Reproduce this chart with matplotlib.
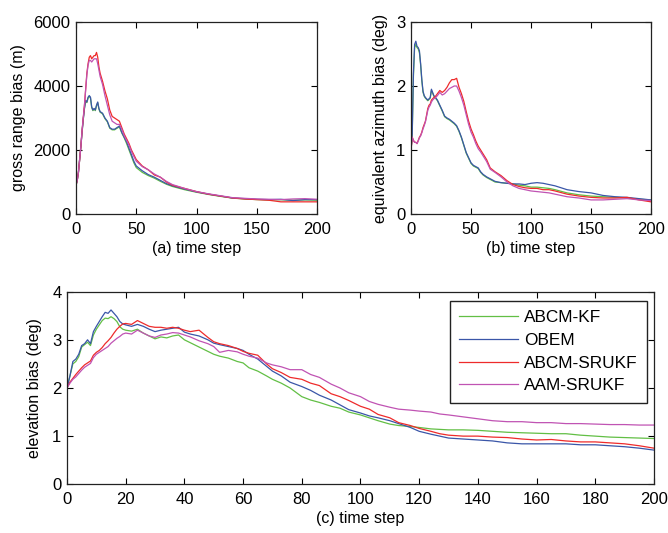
import matplotlib
matplotlib.use('Agg')
import matplotlib.pyplot as plt

plt.rcParams['font.family'] = ['Liberation Sans', 'DejaVu Sans']
plt.rcParams['font.size'] = 12

# legend labels and colours
labels = ['ABCM-KF', 'OBEM', 'ABCM-SRUKF', 'AAM-SRUKF']
colors = ['#62bf45', '#3a56a8', '#ee2b2b', '#c053b3']

# (a) gross range bias
xa = [0, 1, 2, 3, 4, 5, 6, 7, 8, 9, 10, 11, 12, 13, 14, 15, 16, 17, 18, 19, 20,
      22, 24, 26, 28, 30, 32, 34, 36, 38, 40, 42, 44, 46, 48, 50, 55, 60, 65, 70,
      75, 80, 90, 100, 110, 120, 130, 140, 150, 160, 170, 180, 190, 200]
a_kf = [900, 1050, 1300, 1700, 2100, 2550, 2950, 3300, 3520, 3480, 3620, 3680, 3620, 3330, 3230, 3280,
        3230, 3380, 3480, 3280, 3180, 3130, 2980, 2880, 2680, 2630, 2630, 2680, 2720, 2530, 2380, 2200,
        2000, 1800, 1600, 1450, 1300, 1200, 1120, 1020, 930, 860, 760, 680, 610, 550, 495, 470, 450,
        440, 445, 430, 440, 430]
a_obem = [900, 1050, 1300, 1700, 2100, 2550, 2950, 3300, 3550, 3500, 3650, 3700, 3650, 3350, 3250, 3300,
          3250, 3400, 3500, 3300, 3200, 3150, 3000, 2900, 2700, 2650, 2650, 2700, 2750, 2550, 2400, 2250,
          2050, 1850, 1650, 1500, 1350, 1230, 1150, 1050, 950, 880, 780, 690, 620, 560, 500, 480, 460,
          450, 460, 420, 450, 450]
a_srukf = [900, 1050, 1300, 1700, 2100, 2600, 3000, 3400, 3900, 4400, 4700, 4900, 4950, 4850, 4900, 4950,
           4950, 5050, 4900, 4600, 4400, 4150, 3850, 3600, 3250, 3050, 3000, 2950, 2900, 2700, 2500, 2350,
           2200, 2000, 1850, 1700, 1500, 1380, 1220, 1150, 1000, 900, 800, 700, 620, 560, 500, 470, 450,
           430, 380, 380, 380, 380]
a_aam = [900, 1050, 1300, 1700, 2100, 2600, 3000, 3400, 3880, 4350, 4650, 4800, 4800, 4750, 4800, 4850,
         4850, 4850, 4700, 4500, 4300, 4050, 3700, 3400, 3100, 2900, 2850, 2800, 2800, 2650, 2450, 2300,
         2150, 1950, 1800, 1650, 1480, 1380, 1250, 1150, 1020, 920, 800, 700, 630, 570, 510, 490, 470,
         460, 450, 470, 480, 460]

# (b) equivalent azimuth bias
xb = [0, 1, 2, 3, 4, 5, 6, 7, 8, 9, 10, 11, 12, 13, 14, 15, 16, 17, 18, 19, 20,
      22, 24, 26, 28, 30, 32, 34, 36, 38, 40, 42, 44, 46, 48, 50, 52, 54, 56, 58, 60,
      63, 66, 70, 75, 80, 85, 90, 95, 100, 105, 110, 115, 120, 130, 140, 150, 160, 170,
      180, 190, 200]
b_kf = [1.0, 1.25, 2.15, 2.6, 2.65, 2.6, 2.58, 2.52, 2.33, 2.08, 1.9, 1.84, 1.81, 1.79, 1.77, 1.79,
        1.81, 1.93, 1.89, 1.84, 1.82, 1.77, 1.69, 1.61, 1.52, 1.49, 1.47, 1.44, 1.41, 1.37, 1.29, 1.19,
        1.07, 0.95, 0.87, 0.79, 0.75, 0.73, 0.71, 0.65, 0.61, 0.57, 0.54, 0.5, 0.49, 0.48, 0.47, 0.45,
        0.44, 0.42, 0.42, 0.41, 0.4, 0.38, 0.33, 0.3, 0.28, 0.27, 0.26, 0.25, 0.23, 0.22]
b_obem = [1.0, 1.25, 2.2, 2.65, 2.7, 2.62, 2.6, 2.55, 2.35, 2.1, 1.92, 1.85, 1.82, 1.8, 1.78, 1.8,
          1.82, 1.95, 1.9, 1.85, 1.83, 1.78, 1.7, 1.62, 1.53, 1.5, 1.48, 1.45, 1.42, 1.38, 1.3, 1.2,
          1.08, 0.96, 0.88, 0.8, 0.76, 0.74, 0.72, 0.66, 0.62, 0.58, 0.55, 0.51, 0.49, 0.48, 0.47, 0.47,
          0.46, 0.48, 0.49, 0.48, 0.46, 0.44, 0.38, 0.35, 0.33, 0.29, 0.27, 0.26, 0.24, 0.22]
b_srukf = [1.0, 1.2, 1.15, 1.12, 1.12, 1.1, 1.15, 1.2, 1.23, 1.28, 1.35, 1.4, 1.45, 1.55, 1.65, 1.7,
           1.72, 1.78, 1.8, 1.82, 1.83, 1.88, 1.93, 1.9, 1.93, 1.98, 2.05, 2.1, 2.1, 2.12, 1.98, 1.88,
           1.76, 1.6, 1.45, 1.33, 1.24, 1.14, 1.06, 1.0, 0.94, 0.85, 0.72, 0.66, 0.6, 0.52, 0.46, 0.43,
           0.41, 0.4, 0.4, 0.38, 0.38, 0.36, 0.31, 0.28, 0.26, 0.25, 0.25, 0.26, 0.22, 0.19]
b_aam = [1.0, 1.2, 1.15, 1.12, 1.12, 1.1, 1.14, 1.19, 1.22, 1.27, 1.33, 1.38, 1.44, 1.53, 1.62, 1.67,
         1.7, 1.75, 1.78, 1.8, 1.81, 1.85, 1.9, 1.86, 1.88, 1.92, 1.96, 1.98, 2.0, 2.0, 1.92, 1.82,
         1.7, 1.55, 1.4, 1.28, 1.2, 1.1, 1.02, 0.97, 0.91, 0.82, 0.7, 0.65, 0.58, 0.5, 0.44, 0.4,
         0.38, 0.36, 0.35, 0.34, 0.33, 0.31, 0.27, 0.25, 0.22, 0.22, 0.23, 0.24, 0.22, 0.21]

# (c) elevation bias
xc = [0, 1, 2, 3, 4, 5, 6, 7, 8, 9, 10, 11, 12, 13, 14, 15, 16, 17, 18, 19, 20,
      22, 24, 26, 28, 30, 32, 34, 36, 38, 40, 42, 45, 48, 50, 52, 55, 58, 60, 62, 65,
      68, 70, 73, 76, 80, 83, 86, 90, 93, 96, 100, 103, 106, 110, 113, 117, 120, 124,
      127, 130, 135, 140, 145, 150, 155, 160, 165, 170, 175, 180, 185, 190, 195, 200]
c_kf = [2.0, 2.25, 2.5, 2.55, 2.65, 2.85, 2.9, 2.95, 2.88, 3.1, 3.22, 3.31, 3.4, 3.45, 3.44, 3.48,
        3.44, 3.38, 3.27, 3.22, 3.2, 3.18, 3.22, 3.14, 3.08, 3.02, 3.06, 3.04, 3.08, 3.1, 3.0, 2.94,
        2.85, 2.76, 2.7, 2.66, 2.62, 2.55, 2.52, 2.42, 2.35, 2.25, 2.18, 2.1, 2.0, 1.82, 1.75, 1.7,
        1.62, 1.58, 1.5, 1.44, 1.38, 1.32, 1.25, 1.22, 1.2, 1.18, 1.15, 1.14, 1.13, 1.13, 1.12, 1.1,
        1.08, 1.07, 1.06, 1.05, 1.05, 1.02, 1.0, 0.98, 0.97, 0.96, 0.95]
c_obem = [2.0, 2.25, 2.55, 2.6, 2.7, 2.88, 2.92, 3.0, 2.92, 3.17, 3.28, 3.38, 3.48, 3.57, 3.55, 3.62,
          3.55, 3.48, 3.38, 3.33, 3.31, 3.28, 3.32, 3.28, 3.22, 3.17, 3.2, 3.22, 3.24, 3.26, 3.16, 3.12,
          3.08, 3.0, 2.93, 2.9, 2.86, 2.82, 2.78, 2.7, 2.6, 2.45, 2.35, 2.25, 2.12, 2.03, 1.95, 1.85,
          1.75, 1.65, 1.55, 1.48, 1.42, 1.38, 1.32, 1.26, 1.18, 1.1, 1.04, 1.0, 0.96, 0.94, 0.92, 0.9,
          0.86, 0.84, 0.84, 0.84, 0.84, 0.82, 0.82, 0.8, 0.78, 0.75, 0.71]
c_srukf = [2.0, 2.12, 2.2, 2.28, 2.35, 2.42, 2.48, 2.52, 2.56, 2.68, 2.74, 2.78, 2.84, 2.92, 2.98, 3.05,
           3.14, 3.22, 3.28, 3.33, 3.34, 3.32, 3.4, 3.34, 3.28, 3.26, 3.26, 3.24, 3.26, 3.24, 3.2, 3.17,
           3.2, 3.05, 2.96, 2.92, 2.88, 2.82, 2.76, 2.72, 2.68, 2.5, 2.4, 2.32, 2.22, 2.18, 2.1, 2.05,
           1.88, 1.82, 1.74, 1.62, 1.56, 1.45, 1.38, 1.28, 1.22, 1.16, 1.1, 1.05, 1.02, 1.0, 1.0, 0.98,
           0.97, 0.94, 0.92, 0.93, 0.9, 0.88, 0.88, 0.86, 0.84, 0.8, 0.75]
c_aam = [2.0, 2.1, 2.18, 2.23, 2.3, 2.37, 2.43, 2.47, 2.51, 2.63, 2.7, 2.74, 2.78, 2.82, 2.86, 2.93,
         2.98, 3.03, 3.07, 3.12, 3.14, 3.12, 3.2, 3.14, 3.08, 3.05, 3.1, 3.12, 3.15, 3.14, 3.1, 3.06,
         2.98, 2.92, 2.86, 2.74, 2.78, 2.75, 2.7, 2.66, 2.62, 2.52, 2.48, 2.44, 2.38, 2.38, 2.28, 2.22,
         2.08, 2.0, 1.9, 1.82, 1.72, 1.66, 1.6, 1.56, 1.54, 1.52, 1.5, 1.46, 1.44, 1.4, 1.36, 1.32,
         1.3, 1.3, 1.28, 1.28, 1.26, 1.26, 1.25, 1.24, 1.24, 1.23, 1.23]


def style(ax):
    ax.tick_params(direction='in', top=True, right=True, length=4, width=0.8,
                   labelsize=12)
    ax.tick_params(axis='x', pad=5.5)
    ax.tick_params(axis='y', pad=4)
    for sp in ax.spines.values():
        sp.set_linewidth(0.9)
        sp.set_color('#222222')


fig = plt.figure(figsize=(6.68, 5.33), dpi=100)

ax1 = fig.add_axes([0.1138, 0.5985, 0.3608, 0.3602])
for ys, c in zip([a_kf, a_obem, a_srukf, a_aam], colors):
    ax1.plot(xa, ys, color=c, lw=0.9)
ax1.set_xlim(0, 200)
ax1.set_ylim(0, 6000)
ax1.set_xticks([0, 50, 100, 150, 200])
ax1.set_yticks([0, 2000, 4000, 6000])
ax1.set_xlabel('(a) time step', fontsize=11.5, labelpad=3)
ax1.set_ylabel('gross range bias (m)', fontsize=11.5, labelpad=5)
style(ax1)

ax2 = fig.add_axes([0.6153, 0.5985, 0.3593, 0.3602])
for ys, c in zip([b_kf, b_obem, b_srukf, b_aam], colors):
    ax2.plot(xb, ys, color=c, lw=0.9)
ax2.set_xlim(0, 200)
ax2.set_ylim(0, 3)
ax2.set_xticks([0, 50, 100, 150, 200])
ax2.set_yticks([0, 1, 2, 3])
ax2.set_xlabel('(b) time step', fontsize=11.5, labelpad=3)
ax2.set_ylabel('equivalent azimuth bias (deg)', fontsize=11.5, labelpad=6)
style(ax2)

ax3 = fig.add_axes([0.1003, 0.0914, 0.8787, 0.3614])
for ys, c, lab in zip([c_kf, c_obem, c_srukf, c_aam], colors, labels):
    ax3.plot(xc, ys, color=c, lw=0.9, label=lab)
ax3.set_xlim(0, 200)
ax3.set_ylim(0, 4)
ax3.set_xticks(range(0, 201, 20))
ax3.set_yticks([0, 1, 2, 3, 4])
ax3.set_xlabel('(c) time step', fontsize=11.5, labelpad=3)
ax3.set_ylabel('elevation bias (deg)', fontsize=11.5, labelpad=7)
style(ax3)
leg = ax3.legend(loc='upper right', bbox_to_anchor=(0.988, 0.954), borderaxespad=0,
                 fancybox=False, edgecolor='#222222', framealpha=1, fontsize=12.4,
                 handlelength=3.4, handletextpad=0.35, labelspacing=0.45,
                 borderpad=0.55)
leg.get_frame().set_linewidth(1.0)

fig.savefig('out.png', dpi=100)
